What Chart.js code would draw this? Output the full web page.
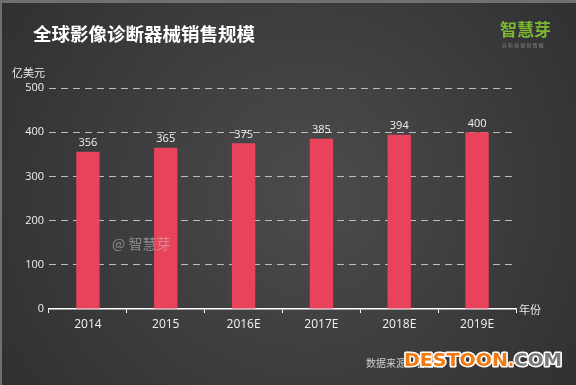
<!DOCTYPE html>
<html>
<head>
<meta charset="utf-8">
<script src="https://cdn.jsdelivr.net/npm/chart.js@4/dist/chart.umd.min.js"></script>
<style>
  html, body { margin: 0; padding: 0; background: #333335; }
  #wrap { width: 576px; height: 385px; position: relative; }
</style>
</head>
<body>
<div id="wrap"><canvas id="chart" width="576" height="385"></canvas></div>
<script>
let years = ['2014', '2015', '2016E', '2017E', '2018E', '2019E'];
let sales = [356, 365, 375, 385, 394, 400];
let yTicks = [0, 100, 200, 300, 400, 500];

let fontCJK = '"Noto Sans CJK SC", "Noto Sans", sans-serif';

// text squeezed or stretched to a given width
function fitText(ctx, text, x, y, width, fill, stroke) {
  let m = ctx.measureText(text).width;
  ctx.save();
  ctx.translate(x, y);
  ctx.scale(width / m, 1);
  if (stroke) { ctx.strokeStyle = stroke; ctx.strokeText(text, 0, 0); }
  ctx.fillStyle = fill;
  ctx.fillText(text, 0, 0);
  ctx.restore();
}

// background, titles and other texts around the plot
let decorPlugin = {
  id: 'decor',
  beforeDraw(chart) {
    let ctx = chart.ctx;
    let w = chart.width, h = chart.height;
    ctx.save();
    let g = ctx.createRadialGradient(w * 0.55, h * 0.5, 20, w * 0.5, h * 0.5, w * 0.65);
    g.addColorStop(0, '#4a4a4c');
    g.addColorStop(1, '#2e2e30');
    ctx.fillStyle = g;
    ctx.fillRect(0, 0, w, h);
    ctx.fillStyle = '#707072';
    ctx.fillRect(0, 0, w, 3);
    ctx.fillRect(0, 0, 2, h);
    ctx.restore();
  },
  afterDraw(chart) {
    let ctx = chart.ctx;
    let area = chart.chartArea;
    ctx.save();
    ctx.textBaseline = 'middle';

    ctx.fillStyle = '#ffffff';
    ctx.font = 'bold 18.5px ' + fontCJK;
    ctx.fillText('全球影像诊断器械销售规模', 33, 34);

    ctx.fillStyle = '#7cb82f';
    ctx.font = 'bold 17px ' + fontCJK;
    ctx.fillText('智慧芽', 500, 30);
    ctx.fillStyle = '#8a8a8a';
    ctx.font = '5px ' + fontCJK;
    ctx.fillText('方 科 技 创 新 情 报', 502, 45);

    ctx.fillStyle = '#e8e8e8';
    ctx.font = '11px ' + fontCJK;
    ctx.fillText('亿美元', 12, 73);
    ctx.fillText('年份', area.right + 3, area.bottom + 1);

    ctx.fillStyle = 'rgba(200,200,200,0.55)';
    ctx.font = '14px ' + fontCJK;
    ctx.fillText('@ 智慧芽', 112, 244);

    ctx.fillStyle = '#cfcfcf';
    ctx.font = '10px ' + fontCJK;
    ctx.fillText('数据来源：智慧芽', 366, 363);

    ctx.font = 'bold 17px "DejaVu Sans", sans-serif';
    ctx.lineWidth = 3;
    ctx.lineJoin = 'round';
    fitText(ctx, 'DESTOON', 404, 362, 104, '#f47a10', '#ffffff');
    fitText(ctx, '.', 508, 362, 6, '#f47a10', '#ffffff');
    fitText(ctx, 'COM', 514, 362, 48, '#7a7a7a', '#ffffff');

    // values on top of bars
    let meta = chart.getDatasetMeta(0);
    ctx.fillStyle = '#f2f2f2';
    ctx.font = '11px "Open Sans", sans-serif';
    ctx.textAlign = 'center';
    ctx.textBaseline = 'bottom';
    meta.data.forEach((bar, i) => {
      ctx.fillText(sales[i], bar.x, bar.y - 3);
    });
    ctx.restore();
  }
};

new Chart(document.getElementById('chart'), {
  type: 'bar',
  data: {
    labels: years,
    datasets: [{
      label: '销售规模',
      data: sales,
      backgroundColor: '#e9435b',
      barPercentage: 0.3,
      categoryPercentage: 1
    }]
  },
  options: {
    responsive: false,
    animation: false,
    layout: { padding: { left: 0, right: 60, top: 88, bottom: 46 } },
    plugins: { legend: { display: false }, tooltip: { enabled: false } },
    scales: {
      y: {
        min: 0,
        max: 500,
        afterFit(scale) { scale.width = 49; },
        afterBuildTicks(scale) { scale.ticks = yTicks.map(v => ({ value: v })); },
        border: { display: false, dash: [7, 5] },
        grid: {
          color: (c) => c.tick && c.tick.value === 0 ? 'rgba(0,0,0,0)' : '#bdbdbd',
          lineWidth: 1,
          drawTicks: false
        },
        ticks: {
          color: '#eeeeee',
          padding: 5,
          font: { size: 11, family: '"Open Sans", sans-serif' }
        }
      },
      x: {
        afterFit(scale) { scale.height = 30; },
        border: { display: true, color: '#ffffff', width: 1.5 },
        grid: {
          drawOnChartArea: false,
          drawTicks: true,
          tickLength: 4,
          color: '#ffffff',
          offset: true
        },
        ticks: {
          color: '#f2f2f2',
          padding: 4,
          font: { size: 12, family: '"Open Sans", sans-serif' }
        }
      }
    }
  },
  plugins: [decorPlugin]
});
</script>
</body>
</html>
